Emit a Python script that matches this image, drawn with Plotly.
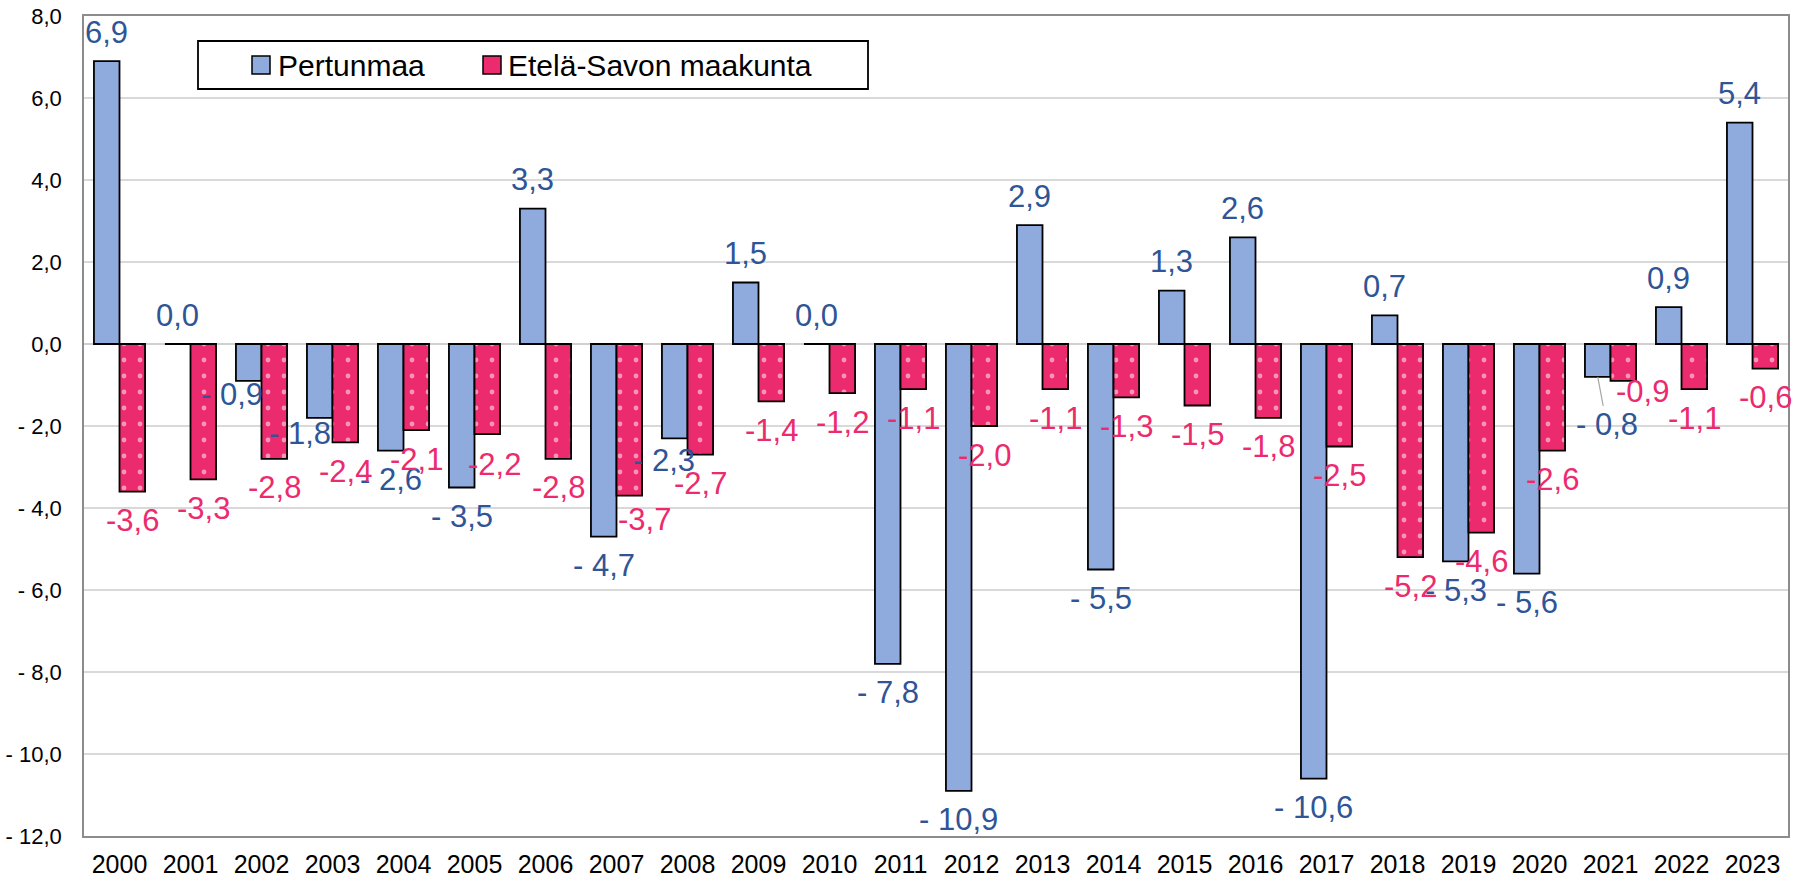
import plotly.graph_objects as go

years = [str(y) for y in range(2000, 2024)]
pertunmaa = [6.9, 0.0, -0.9, -1.8, -2.6, -3.5, 3.3, -4.7, -2.3, 1.5, 0.0, -7.8,
             -10.9, 2.9, -5.5, 1.3, 2.6, -10.6, 0.7, -5.3, -5.6, -0.8, 0.9, 5.4]
etela_savo = [-3.6, -3.3, -2.8, -2.4, -2.1, -2.2, -2.8, -3.7, -2.7, -1.4, -1.2, -1.1,
              -2.0, -1.1, -1.3, -1.5, -1.8, -2.5, -5.2, -4.6, -2.6, -0.9, -1.1, -0.6]
series_names = ["Pertunmaa", "Etelä-Savon maakunta"]
y_tickvals = [8, 6, 4, 2, 0, -2, -4, -6, -8, -10, -12]
y_ticktext = ["8,0", "6,0", "4,0", "2,0", "0,0", "- 2,0", "- 4,0", "- 6,0",
              "- 8,0", "- 10,0", "- 12,0"]

# label style adjustments (pixel offsets dx, gap) for crowded labels
p_label_adj = {"2002": (-17, 14), "2003": (-20, 16), "2008": (-11, 22), "2021": (9, 48)}
e_label_adj = {"2005": (7, 30), "2007": (15, 24), "2021": (19, 11)}

FONT = "Liberation Sans, Arial, sans-serif"
P_COL = "#8FAADC"
P_TXT = "#2F5597"
E_COL = "#EC2A6E"
E_TXT = "#EC2A6E"
LABEL_SIZE = 31

# plot-area geometry (pixels)
W, H = 1798, 882
ML, MR, MT, MB = 84, 10, 16, 46
PW, PH = W - ML - MR, H - MT - MB


def px_x(px):
    return (px - ML) / PW


def px_y(py):
    return (H - MB - py) / PH


fig = go.Figure()
fig.add_trace(go.Bar(
    x=years, y=pertunmaa, name=series_names[0], showlegend=False,
    marker=dict(color=P_COL, line=dict(color="black", width=1.8)),
))
fig.add_trace(go.Bar(
    x=years, y=etela_savo, name=series_names[1], showlegend=False,
    marker=dict(color=E_COL, line=dict(color="black", width=1.8),
                pattern=dict(shape=".", fgcolor="white", bgcolor=E_COL,
                             size=16, solidity=0.07, fillmode="overlay")),
))


def fmt(v, spaced):
    s = f"{abs(v):.1f}".replace(".", ",")
    if v < 0:
        return ("- " if spaced else "-") + s
    return s


annotations = []
BAR_OFF = 12.75
DEFAULT_GAP = 29
for series, color, off, adj, spaced, is_p in [
    (pertunmaa, P_TXT, -BAR_OFF, p_label_adj, True, True),
    (etela_savo, E_TXT, BAR_OFF, e_label_adj, False, False),
]:
    for i, (yr, v) in enumerate(zip(years, series)):
        dx, gap = adj.get(yr, (0, DEFAULT_GAP))
        sign = 1 if v >= 0 else -1
        if yr == "2021" and is_p:
            ann = dict(x=i, y=v, xref="x", yref="y", text=fmt(v, spaced),
                       font=dict(family=FONT, size=LABEL_SIZE, color=color),
                       xanchor="center", yanchor="middle", showarrow=True,
                       arrowhead=0, arrowwidth=1.2, arrowcolor="#A6A6A6",
                       ax=dx, ay=gap, xshift=off, standoff=0)
        else:
            ann = dict(x=i, y=v, xref="x", yref="y", text=fmt(v, spaced),
                       font=dict(family=FONT, size=LABEL_SIZE, color=color),
                       xanchor="center", yanchor="middle", showarrow=False,
                       xshift=off + dx, yshift=sign * gap)
        annotations.append(ann)

# custom legend (box, swatches, texts)
LEG_CY = 65
shapes = [
    dict(type="rect", xref="paper", yref="paper",
         x0=px_x(198), x1=px_x(868), y0=px_y(89), y1=px_y(41),
         line=dict(color="black", width=1.8), fillcolor="white", layer="above"),
    dict(type="rect", xref="paper", yref="paper",
         x0=px_x(252), x1=px_x(270), y0=px_y(LEG_CY + 9), y1=px_y(LEG_CY - 9),
         line=dict(color="black", width=1.5), fillcolor=P_COL, layer="above"),
    dict(type="rect", xref="paper", yref="paper",
         x0=px_x(483), x1=px_x(501), y0=px_y(LEG_CY + 9), y1=px_y(LEG_CY - 9),
         line=dict(color="black", width=1.5), fillcolor=E_COL, layer="above"),
]
for name, tx in zip(series_names, [276, 506]):
    annotations.append(dict(x=px_x(tx), y=px_y(LEG_CY), xref="paper", yref="paper",
                            text=name, showarrow=False, xanchor="left", yanchor="middle",
                            font=dict(family=FONT, size=30, color="black")))

fig.update_layout(
    width=W, height=H,
    paper_bgcolor="white", plot_bgcolor="white",
    margin=dict(l=ML, r=MR, t=MT, b=MB),
    barmode="group", bargap=0.28, bargroupgap=0,
    font=dict(family=FONT, color="black"),
    showlegend=False,
    shapes=shapes,
    annotations=annotations,
)
fig.update_xaxes(
    type="category", range=[-0.5, 23.5], showline=True, linecolor="#8C8C8C",
    linewidth=1.5, mirror=True, automargin=False, ticklabelstandoff=5,
    ticks="", tickfont=dict(family=FONT, size=25, color="black"), showgrid=False,
)
fig.update_yaxes(
    range=[-12, 8], tickvals=y_tickvals, ticktext=y_ticktext,
    showline=True, linecolor="#8C8C8C", linewidth=1.5, mirror=True,
    automargin=False, ticklabelstandoff=16,
    showgrid=True, gridcolor="#D9D9D9", gridwidth=1.5,
    zeroline=True, zerolinecolor="#D0D0D0", zerolinewidth=2,
    ticks="", tickfont=dict(family=FONT, size=22, color="black"),
)

fig.write_html("out.html", config={"displayModeBar": False},
               post_script="document.body.style.margin='0';")
